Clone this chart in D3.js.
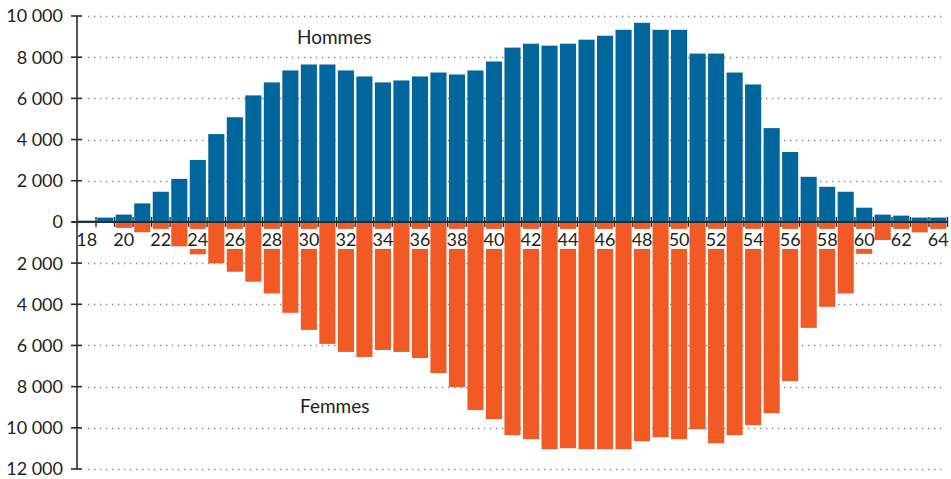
<!DOCTYPE html>
<html>
<head>
<meta charset="utf-8">
<script src="https://cdn.jsdelivr.net/npm/d3@7/dist/d3.min.js"></script>
<style>
  html, body { margin: 0; padding: 0; background: #fff; }
  svg { display: block; font-family: Lato, "Open Sans", sans-serif; }
</style>
</head>
<body>
<svg id="chart" width="951" height="479"></svg>
<script>
const ages = d3.range(18, 65);
const hommes = [65, 210, 355, 900, 1465, 2090, 3010, 4265, 5085, 6145,
  6775, 7355, 7645, 7645, 7355, 7065, 6775, 6870, 7065, 7255,
  7160, 7355, 7790, 8465, 8655, 8560, 8655, 8850, 9040, 9330,
  9670, 9330, 9330, 8175, 8175, 7255, 6675, 4555, 3395, 2190,
  1705, 1465, 690, 355, 305, 210, 210];
const femmes = [0, 0, 290, 500, 800, 1185, 1575, 2010, 2420, 2905,
  3475, 4415, 5245, 5925, 6315, 6560, 6220, 6315, 6610, 7340,
  8020, 9140, 9580, 10360, 10550, 11040, 10990, 11040, 11040, 11040,
  10650, 10450, 10550, 10065, 10750, 10360, 9870, 9285, 7730, 5145,
  4125, 3475, 1550, 880, 650, 510, 380];
const yTicks = [10000, 8000, 6000, 4000, 2000, 0, -2000, -4000, -6000, -8000, -10000, -12000];
const xLabels = ages.filter(a => a % 2 === 0);
const seriesNames = ["Hommes", "Femmes"];

const BLUE = "#00669b", ORANGE = "#f15a25", TXT = "#231f20";
const svg = d3.select("#chart");

const x = d3.scaleBand().domain(ages).range([77.5, 947.5]).paddingInner(0.13).paddingOuter(0.065);
const y = d3.scaleLinear().domain([-12000, 10000]).range([469, 16]);
const fmt = d3.formatLocale({decimal: ",", thousands: " ", grouping: [3], currency: ["", ""]}).format(",d");

// gridlines
svg.append("g").selectAll("line").data(yTicks.filter(d => d !== 0)).join("line")
  .attr("x1", 88).attr("x2", 946)
  .attr("y1", d => Math.round(y(d)) + 0.5).attr("y2", d => Math.round(y(d)) + 0.5)
  .attr("stroke", "#8a8a8a").attr("stroke-width", 1.6)
  .attr("stroke-dasharray", "1.4,4.6");

// bars
svg.append("g").selectAll("rect").data(ages).join("rect")
  .attr("x", (d) => x(d)).attr("width", x.bandwidth())
  .attr("y", (d, i) => y(hommes[i])).attr("height", (d, i) => y(0) - y(hommes[i]))
  .attr("fill", BLUE);
svg.append("g").selectAll("rect").data(ages).join("rect")
  .attr("x", (d) => x(d)).attr("width", x.bandwidth())
  .attr("y", y(0)).attr("height", (d, i) => y(-femmes[i]) - y(0))
  .attr("fill", ORANGE);

// zero axis with ticks between bars
const step = x.step();
const x0 = x(ages[0]) - step * x.paddingInner() / 2;
svg.append("line").attr("x1", 72).attr("x2", 948)
  .attr("y1", y(0)).attr("y2", y(0)).attr("stroke", "#2b2b2b").attr("stroke-width", 2);
svg.append("g").selectAll("line").data(d3.range(ages.length + 1)).join("line")
  .attr("x1", i => x0 + i * step).attr("x2", i => x0 + i * step)
  .attr("y1", y(0) - 5).attr("y2", y(0) + 5)
  .attr("stroke", "#2b2b2b").attr("stroke-width", 1.4);

// x labels with white boxes
const lab = svg.append("g").selectAll("g").data(xLabels).join("g");
lab.append("rect")
  .attr("x", d => x(d) - 0.5).attr("width", x.bandwidth() + 1)
  .attr("y", y(0) + 7).attr("height", 20).attr("fill", "#fff");
lab.append("text")
  .attr("x", d => x(d) + x.bandwidth() / 2).attr("y", y(0) + 24)
  .attr("text-anchor", "middle").attr("font-size", 18).attr("fill", TXT)
  .text(d => d);

// y axis
svg.append("line").attr("x1", 77).attr("x2", 77).attr("y1", y(10000)).attr("y2", y(-12000))
  .attr("stroke", "#555").attr("stroke-width", 2);
svg.append("g").selectAll("line").data(yTicks).join("line")
  .attr("x1", 71).attr("x2", 82).attr("y1", d => y(d)).attr("y2", d => y(d))
  .attr("stroke", "#2b2b2b").attr("stroke-width", 1.6);
svg.append("g").selectAll("text").data(yTicks).join("text")
  .attr("x", 63).attr("y", d => y(d)).attr("dy", "0.36em")
  .attr("text-anchor", "end").attr("font-size", 18).attr("fill", TXT)
  .text(d => fmt(Math.abs(d)));

// series labels
svg.append("text").attr("x", 297).attr("y", 44).attr("font-size", 19).attr("fill", TXT).text(seriesNames[0]);
svg.append("text").attr("x", 300).attr("y", 413).attr("font-size", 19).attr("fill", TXT).text(seriesNames[1]);
</script>
</body>
</html>
